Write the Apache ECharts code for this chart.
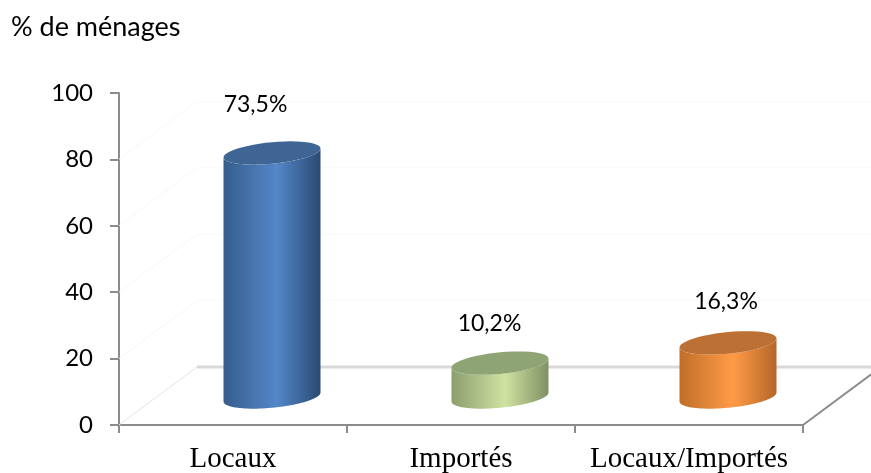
<!DOCTYPE html>
<html><head><meta charset="utf-8">
<style>html,body{margin:0;padding:0;background:#fff}#c{width:871px;height:473px}</style>
<script src="https://cdn.jsdelivr.net/npm/echarts@6/dist/echarts.min.js"></script>
</head><body><div id="c"></div>
<script>
const categories = ['Locaux', 'Importés', 'Locaux/Importés'];
const values = [73.5, 10.2, 16.3];
const valueLabels = ['73,5%', '10,2%', '16,3%'];
const yTicks = [0, 20, 40, 60, 80, 100];
const wallTicks = [20, 40, 60, 80];

const palettes = [
  {edgeL:'#365d8c', mid:'#5487c9', edgeR:'#2b4a72', top:'#3e6594'},
  {edgeL:'#8b9e6e', mid:'#d0e2a2', edgeR:'#7f9163', top:'#8fa474'},
  {edgeL:'#c06e2a', mid:'#ff9b47', edgeR:'#b5662a', top:'#bd7034'}
];
const labelShiftX = [-16.5, -10.5, -2];
const labelShiftY = [-48, -40, -41];
const depthX = 39, depthY = 28, backX = 78, backY = 58;
const halfW = 48.5, ellB = 10.8, ellTilt = 4.5;

function ellipsePts(cx, cy, from, to) {
  const pts = [];
  const n = 48;
  for (let i = 0; i <= n; i++) {
    const t = from + (to - from) * i / n;
    pts.push([cx + halfW * Math.cos(t), cy + ellB * Math.sin(t) - ellTilt * Math.cos(t)]);
  }
  return pts;
}

function renderCylinder(params, api) {
  const i = api.value(0);
  const v = api.value(1);
  const base = api.coord([i, 0]);
  const tp = api.coord([i, v]);
  const cx = base[0] + depthX;
  const by = base[1] - depthY;
  const ty = tp[1] - depthY;
  const p = palettes[i];
  const front = ellipsePts(cx, by, 0, Math.PI);
  const back = ellipsePts(cx, ty, Math.PI, 0);
  return {
    type: 'group',
    children: [
      {type:'polygon', shape:{points: front.concat(back)},
       style:{fill:new echarts.graphic.LinearGradient(0,0,1,0,[
         {offset:0,color:p.edgeL},{offset:0.55,color:p.mid},{offset:1,color:p.edgeR}])}},
      {type:'polygon', shape:{points: ellipsePts(cx, ty, 0, 2*Math.PI)}, style:{fill:p.top}},
      {type:'text', style:{text:valueLabels[i], x:cx+labelShiftX[i], y:ty+labelShiftY[i], align:'center', verticalAlign:'middle',
        font:'23px Lato', fill:'#000'}}
    ]
  };
}

function renderFloor(params, api) {
  const cs = params.coordSys;
  const xL = cs.x, xR = cs.x + cs.width;
  const y0 = api.coord([0, 0])[1];
  const kids = [];
  wallTicks.forEach(function (t) {
    const y = api.coord([0, t])[1];
    kids.push({type:'line', shape:{x1:xL,y1:y,x2:xL+backX,y2:y-backY}, style:{stroke:'#f8f8f8',lineWidth:1}});
    kids.push({type:'line', shape:{x1:xL+backX,y1:y-backY,x2:871,y2:y-backY}, style:{stroke:'#fafafa',lineWidth:1}});
  });
  kids.push({type:'line', shape:{x1:xL,y1:y0,x2:xL+backX,y2:y0-backY}, style:{stroke:'#e4e4e4',lineWidth:1}});
  kids.push({type:'line', shape:{x1:xL+backX,y1:y0-backY,x2:871,y2:y0-backY}, style:{stroke:'#d9d9d9',lineWidth:3}});
  kids.push({type:'line', shape:{x1:xR,y1:y0,x2:xR+backX,y2:y0-backY}, style:{stroke:'#8c8c8c',lineWidth:2}});
  return {type:'group', children:kids};
}

const chart = echarts.init(document.getElementById('c'), null, {renderer:'canvas'});
chart.setOption({
  animation:false,
  backgroundColor:'#fff',
  title:{text:'% de ménages', left:6, top:9, textStyle:{fontFamily:'Lato',fontSize:27,fontWeight:'normal',color:'#000'}},
  grid:{left:119, right:68, top:93, bottom:48, outerBoundsMode:'none'},
  xAxis:{type:'category', data:categories, boundaryGap:true,
    axisLine:{lineStyle:{color:'#8c8c8c',width:2}},
    axisTick:{show:true,length:8,alignWithLabel:false,lineStyle:{color:'#8c8c8c',width:2}},
    axisLabel:{fontFamily:'Liberation Serif',fontSize:29,color:'#000',margin:20,interval:0}},
  yAxis:{type:'value', min:yTicks[0], max:yTicks[yTicks.length-1], interval:yTicks[1]-yTicks[0],
    axisLine:{show:true,lineStyle:{color:'#8c8c8c',width:2}},
    axisTick:{show:true,length:9,lineStyle:{color:'#8c8c8c',width:2}},
    splitLine:{show:false},
    axisLabel:{fontFamily:'Lato',fontSize:24,color:'#000',margin:26}},
  series:[
    {type:'custom', z:1, clip:false, renderItem:renderFloor, data:[[0,0]], silent:true},
    {type:'custom', z:2, clip:false, renderItem:renderCylinder, encode:{x:0,y:1},
     data:values.map(function(v,i){return [i,v];})}
  ]
});
</script></body></html>
